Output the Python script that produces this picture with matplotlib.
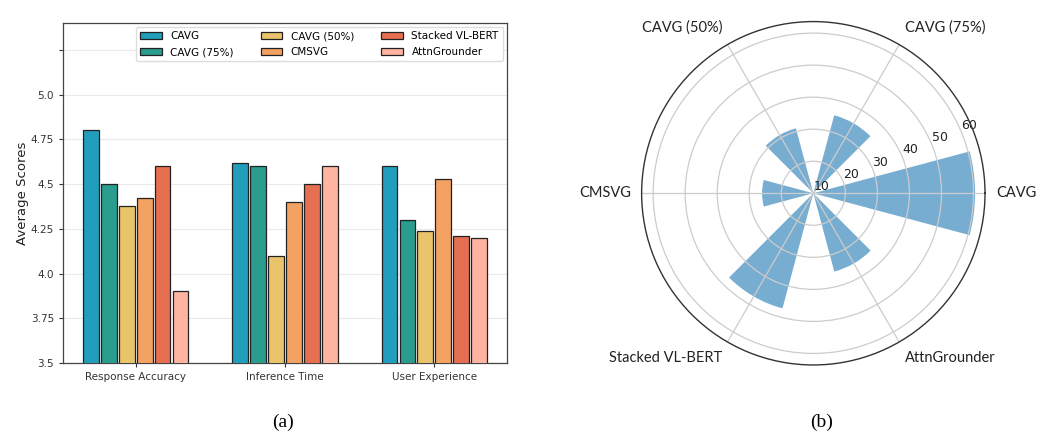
import numpy as np
import matplotlib
matplotlib.use("Agg")
import matplotlib.pyplot as plt

# ---- data ----
metrics = ["Response Accuracy", "Inference Time", "User Experience"]
models = ["CAVG", "CAVG (75%)", "CAVG (50%)", "CMSVG", "Stacked VL-BERT", "AttnGrounder"]
cavg = [4.80, 4.62, 4.60]
cavg75 = [4.50, 4.60, 4.30]
cavg50 = [4.38, 4.10, 4.24]
cmsvg = [4.42, 4.40, 4.53]
stacked = [4.60, 4.50, 4.21]
attn = [3.90, 4.60, 4.20]
polar_values = [60.5, 35.2, 31.0, 26.0, 47.2, 35.3]
polar_labels = ["CAVG", "CAVG (75%)", "CAVG (50%)", "CMSVG", "Stacked VL-BERT", "AttnGrounder"]
y_ticks = [3.5, 3.75, 4.0, 4.25, 4.5, 4.75, 5.0, 5.25]
y_ticklabels = ["3.5", "3.75", "4.0", "4.25", "4.5", "4.75", "5.0", ""]
r_ticks = [10, 20, 30, 40, 50, 60]

colors = ["#219ebc", "#2a9d8f", "#e9c46a", "#f4a261", "#e76f51", "#ffb4a2"]

fig = plt.figure(figsize=(10.45, 4.44), dpi=100)

# ---- (a) grouped bars ----
ax = fig.add_axes([0.0603, 0.1824, 0.4249, 0.7658])
series = [cavg, cavg75, cavg50, cmsvg, stacked, attn]
x = np.arange(len(metrics))
pitch = 0.12
for i, (vals, name, c) in enumerate(zip(series, models, colors)):
    ax.bar(x + (i - 2.5) * pitch, vals, width=0.105, color=c, edgecolor="#222222",
           linewidth=0.9, label=name, zorder=3)
ax.set_ylim(3.5, 5.4)
ax.set_yticks(y_ticks)
ax.set_yticklabels(y_ticklabels)
ax.set_xticks(x)
ax.set_xticklabels(metrics)
ax.tick_params(axis="both", labelsize=7.5, colors="#333333", length=3)
ax.set_ylabel("Average Scores", fontsize=9.5, color="#222222", labelpad=1)
ax.yaxis.grid(True, color="#dddddd", alpha=0.6, linewidth=0.8, zorder=0)
for s in ax.spines.values():
    s.set_color("#444444")
    s.set_linewidth(0.9)
ax.legend(ncol=3, loc="upper right", fontsize=7.5, frameon=True, framealpha=1.0,
          edgecolor="#dddddd", handlelength=2.1, columnspacing=2.6,
          borderaxespad=0.4, labelspacing=0.55)

# ---- (b) polar bars ----
r_min, r_max = 10, 63.6
pax = fig.add_axes([0.614, 0.178, 0.3286, 0.7734], projection="polar")
theta = np.deg2rad(np.arange(len(polar_values)) * 60)
pax.bar(theta, np.array(polar_values) - r_min, width=np.deg2rad(30), bottom=r_min,
        color="#1f77b4", alpha=0.6, linewidth=0)
pax.set_ylim(r_min, r_max)
pax.set_yticks(r_ticks)
pax.set_yticklabels([str(v) for v in r_ticks], fontsize=9, color="#222222")
pax.set_rlabel_position(22.5)
pax.set_xticks(theta)
pax.set_xticklabels([])
pax.grid(True, color="#cccccc", linewidth=0.9)
pax.spines["polar"].set_color("#333333")
pax.spines["polar"].set_linewidth(1.0)

label_r = r_max + 3.4
for t, lab in zip(theta, polar_labels):
    c, s = np.cos(t), np.sin(t)
    ha = "left" if c > 0.1 else ("right" if c < -0.1 else "center")
    va = "bottom" if s > 0.1 else ("top" if s < -0.1 else "center")
    pax.text(t, label_r, lab, ha=ha, va=va, fontsize=10.5, family="Lato",
             color="#222222")

# ---- captions ----
fig.text(283 / 1045, 1 - 422 / 444, "(a)", fontsize=14, family="Liberation Serif",
         ha="center", va="center")
fig.text(822 / 1045, 1 - 422 / 444, "(b)", fontsize=14, family="Liberation Serif",
         ha="center", va="center")

fig.savefig("out.png", dpi=100, facecolor="white")
